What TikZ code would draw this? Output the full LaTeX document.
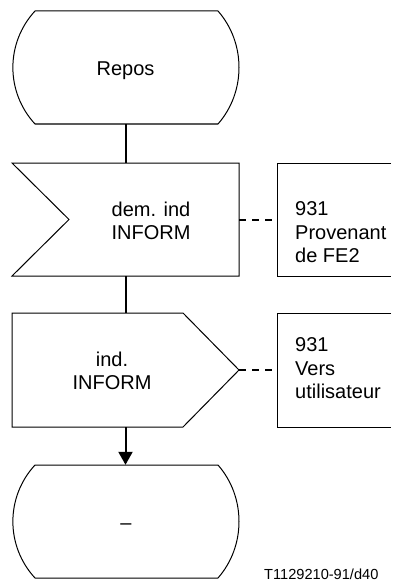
\documentclass[tikz,border=0pt]{standalone}
\usepackage{fontspec}
\setmainfont{Liberation Sans}
\usetikzlibrary{arrows.meta}
\begin{document}
\begin{tikzpicture}[x=1pt,y=-1pt,
  frame/.style={draw=none,inner sep=0pt,minimum width=227pt,minimum height=113pt},
  cframe/.style={draw=none,inner sep=0pt,minimum width=114pt,minimum height=113pt},
  outline/.style={line width=1pt,line join=miter},
  conn/.style={line width=2pt},
  dconn/.style={line width=2pt,dash pattern=on 7pt off 6pt},
  lbl/.style={inner sep=0pt,font=\fontsize{20}{23.6}\selectfont},
  captxt/.style={inner sep=0pt,font=\fontsize{14.6}{17}\selectfont}]
\useasboundingbox (0,0) rectangle (393,583);
% frames (invisible, used for connections)
\node[frame] (repos) at (125.5,67.5) {};
\node[frame] (inp) at (125.5,219.5) {};
\node[cframe] (c1) at (334,219.5) {};
\node[frame,minimum height=114pt] (outp) at (125.5,370) {};
\node[cframe,minimum height=114pt] (c2) at (334,370) {};
\node[frame] (fin) at (125.5,521.5) {};
% shapes
\draw[outline] (35,11) -- (218,11) .. controls (246,43) and (246,92) .. (218,124)
  -- (35,124) .. controls (5.5,92) and (5.5,43) .. (35,11) -- cycle;
\draw[outline] (12,163) -- (239,163) -- (239,276) -- (12,276) -- (69,219.5) -- cycle;
\draw[outline] (391,163) -- (277,163) -- (277,276) -- (391,276);
\draw[outline] (12,313) -- (183,313) -- (239,370) -- (183,427) -- (12,427) -- cycle;
\draw[outline] (391,313) -- (277,313) -- (277,427) -- (391,427);
\draw[outline] (35,465) -- (218,465) .. controls (246,497) and (246,546) .. (218,578)
  -- (35,578) .. controls (5.5,546) and (5.5,497) .. (35,465) -- cycle;
% texts
\node[lbl,anchor=base] (reposT) at (125.5,76) {Repos};
\node[lbl,anchor=north,align=center] (inT) at (151,201.4) {dem. ind\\INFORM};
\node[lbl,anchor=north west,align=left] (c1T) at (295,201.4) {931\\Provenant\\de FE2};
\node[lbl,anchor=north,align=center] (outT) at (112,351.4) {ind.\\INFORM};
\node[lbl,anchor=north west,align=left] (c2T) at (295,337.4) {931\\Vers\\utilisateur};
\node[lbl,anchor=base] (finT) at (126,529) {–};
\node[captxt,anchor=base west] (capT) at (264,579) {T1129210-91/d40};
% connectors
\draw[conn] (repos.south) -- (inp.north);
\draw[conn] (inp.south) -- (outp.north);
\draw[conn,-{Triangle[length=13pt,width=14pt]}] (outp.south) -- (fin.north);
\draw[dconn] (inp.east) -- (c1.west);
\draw[dconn] (outp.east) -- (c2.west);
\end{tikzpicture}
\end{document}
